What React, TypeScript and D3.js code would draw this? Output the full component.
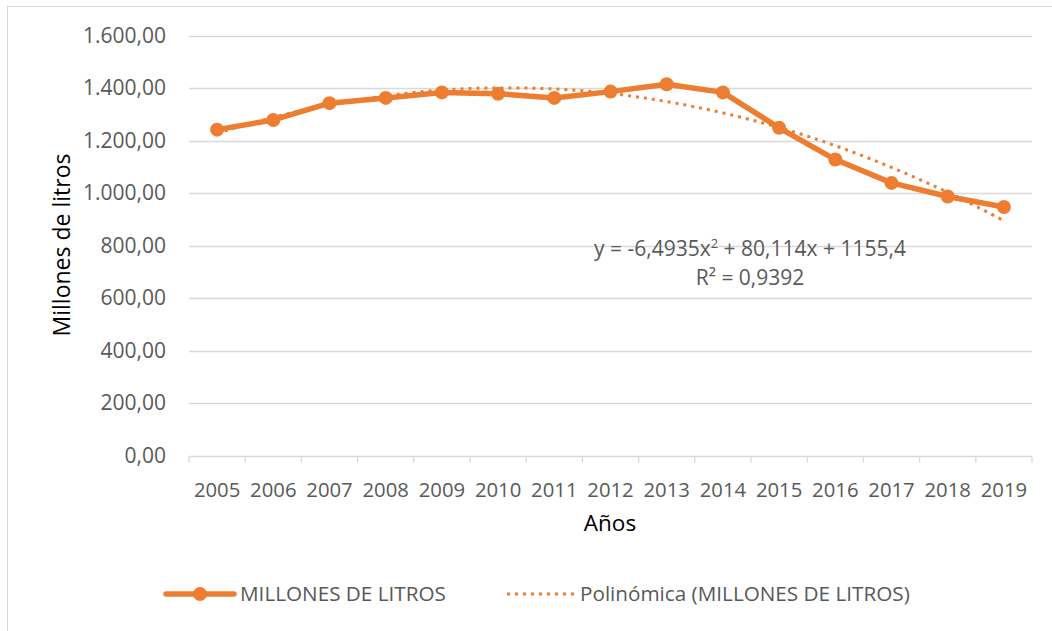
import React, { useEffect, useRef } from "react";
import * as d3 from "d3";

// values
const years = ["2005", "2006", "2007", "2008", "2009", "2010", "2011", "2012", "2013", "2014", "2015", "2016", "2017", "2018", "2019"];
const litros = [1243, 1280, 1344, 1364, 1385, 1380, 1364, 1388, 1416, 1385, 1250, 1129, 1040, 988, 948];
// polynomial trend values (Excel trendline), as seen on the chart
const trend = [1229, 1290, 1337, 1372, 1394, 1402, 1398, 1381, 1350, 1307, 1251, 1182, 1099, 1004, 896];
const yTicks = [0, 200, 400, 600, 800, 1000, 1200, 1400, 1600];

const ORANGE = "#ED7D31";
const FONT = "'Open Sans', sans-serif";

const App = () => {
  const svgRef = useRef<SVGSVGElement>(null);

  useEffect(() => {
    const width = 1052;
    const height = 631;
    const margin = { top: 36, right: 20, bottom: 176, left: 189 };

    const svg = d3.select(svgRef.current);
    svg.selectAll("*").remove();
    svg.attr("width", width).attr("height", height);

    // chart frame (cut by the picture on right/bottom)
    svg
      .append("rect")
      .attr("x", 7.5)
      .attr("y", 6.5)
      .attr("width", width + 20)
      .attr("height", height + 20)
      .attr("fill", "white")
      .attr("stroke", "#d9d9d9");

    const x = d3.scaleBand().domain(years).range([margin.left, width - margin.right]);
    const y = d3.scaleLinear().domain([0, 1600]).range([height - margin.bottom + 0.7, margin.top]);

    // gridlines
    svg
      .append("g")
      .selectAll("line")
      .data(yTicks.filter((t) => t > 0))
      .enter()
      .append("line")
      .attr("x1", margin.left)
      .attr("x2", width - margin.right)
      .attr("y1", (d) => Math.round(y(d)) + 0.5)
      .attr("y2", (d) => Math.round(y(d)) + 0.5)
      .attr("stroke", "#d9d9d9")
      .attr("stroke-width", 1.3);

    // y tick labels
    svg
      .append("g")
      .selectAll("text")
      .data(yTicks)
      .enter()
      .append("text")
      .attr("x", 166)
      .attr("y", (d) => y(d) + 7)
      .attr("text-anchor", "end")
      .style("font-family", FONT)
      .style("font-size", "21px")
      .style("fill", "#595959")
      .text((d) => d3.format(",.2f")(d).replace(/,/g, "#").replace(".", ",").replace(/#/g, "."));

    // x axis
    const xAxis = svg
      .append("g")
      .attr("transform", `translate(0,${Math.round(y(0)) + 0.5})`)
      .call(d3.axisBottom(x).tickSize(0).tickFormat(() => ""));
    xAxis.select(".domain").remove();
    xAxis
      .append("line")
      .attr("x1", margin.left)
      .attr("x2", width - margin.right)
      .attr("stroke", "#d9d9d9")
      .attr("stroke-width", 1.3);
    const edges = years.map((yr) => x(yr)!).concat([width - margin.right]);
    xAxis
      .selectAll("line.tk")
      .data(edges)
      .enter()
      .append("line")
      .attr("class", "tk")
      .attr("x1", (d) => d)
      .attr("x2", (d) => d)
      .attr("y1", 0)
      .attr("y2", 6)
      .attr("stroke", "#d9d9d9")
      .attr("stroke-width", 1.3);

    svg
      .append("g")
      .selectAll("text")
      .data(years)
      .enter()
      .append("text")
      .attr("x", (d) => x(d)! + x.bandwidth() / 2)
      .attr("y", 497)
      .attr("text-anchor", "middle")
      .style("font-family", FONT)
      .style("font-size", "20.3px")
      .style("fill", "#595959")
      .text((d) => d);

    // axis titles
    svg
      .append("text")
      .attr("x", 610)
      .attr("y", 531)
      .attr("text-anchor", "middle")
      .style("font-family", FONT)
      .style("font-size", "22.5px")
      .style("fill", "black")
      .text("Años");

    svg
      .append("text")
      .attr("transform", "translate(70,245) rotate(-90)")
      .attr("text-anchor", "middle")
      .style("font-family", FONT)
      .style("font-size", "23px")
      .style("fill", "black")
      .text("Millones de litros");

    const cx = (i: number) => x(years[i])! + x.bandwidth() / 2;

    // trendline
    const trendLine = d3
      .line<number>()
      .x((_, i) => cx(i))
      .y((d) => y(d))
      .curve(d3.curveCatmullRom);
    svg
      .append("path")
      .attr("d", trendLine(trend))
      .attr("fill", "none")
      .attr("stroke", ORANGE)
      .attr("stroke-width", 3)
      .attr("stroke-dasharray", "3 5");

    // series line
    const line = d3
      .line<number>()
      .x((_, i) => cx(i))
      .y((d) => y(d));
    svg
      .append("path")
      .attr("d", line(litros))
      .attr("fill", "none")
      .attr("stroke", ORANGE)
      .attr("stroke-width", 5.5)
      .attr("stroke-linejoin", "round");

    svg
      .append("g")
      .selectAll("circle")
      .data(litros)
      .enter()
      .append("circle")
      .attr("cx", (_, i) => cx(i))
      .attr("cy", (d) => y(d))
      .attr("r", 7)
      .attr("fill", ORANGE);

    // equation
    svg
      .append("text")
      .attr("x", 750)
      .attr("y", 256)
      .attr("text-anchor", "middle")
      .style("font-family", FONT)
      .style("font-size", "21px")
      .style("fill", "#595959")
      .html('y = -6,4935x<tspan dy="-8" font-size="13">2</tspan><tspan dy="8"> + 80,114x + 1155,4</tspan>');
    svg
      .append("text")
      .attr("x", 750)
      .attr("y", 285)
      .attr("text-anchor", "middle")
      .style("font-family", FONT)
      .style("font-size", "21px")
      .style("fill", "#595959")
      .text("R² = 0,9392");

    // legend
    const legend = svg.append("g").attr("transform", "translate(0,594)");
    legend
      .append("line")
      .attr("x1", 166)
      .attr("x2", 234)
      .attr("stroke", ORANGE)
      .attr("stroke-width", 5.5)
      .attr("stroke-linecap", "round");
    legend.append("circle").attr("cx", 200).attr("cy", 0).attr("r", 7).attr("fill", ORANGE);
    legend
      .append("text")
      .attr("x", 240)
      .attr("y", 7)
      .style("font-family", FONT)
      .style("font-size", "20.7px")
      .style("fill", "#595959")
      .text("MILLONES DE LITROS");

    legend
      .append("line")
      .attr("x1", 507)
      .attr("x2", 575)
      .attr("stroke", ORANGE)
      .attr("stroke-width", 3)
      .attr("stroke-dasharray", "3 5");
    legend
      .append("text")
      .attr("x", 580)
      .attr("y", 7)
      .style("font-family", FONT)
      .style("font-size", "20.7px")
      .style("fill", "#595959")
      .text("Polinómica (MILLONES DE LITROS)");
  }, []);

  return <svg ref={svgRef} style={{ position: "absolute", left: 0, top: 0 }}></svg>;
};

export default App;
